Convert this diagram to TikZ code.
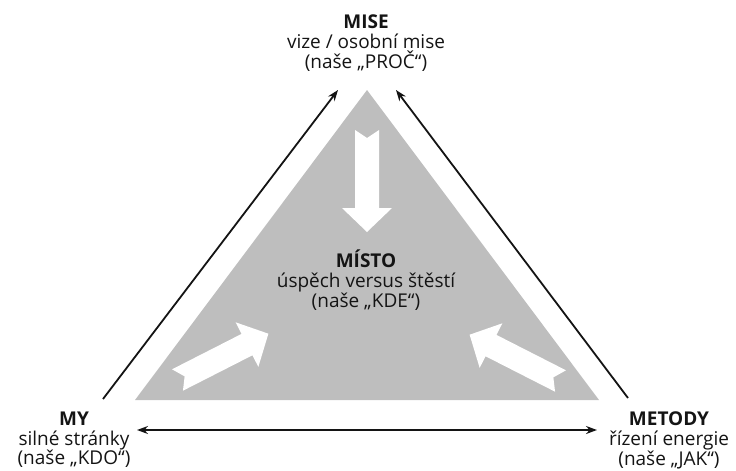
\documentclass[tikz,border=0pt]{standalone}
\usepackage{fontspec}
\setmainfont{Open Sans}
\usetikzlibrary{arrows.meta}
\definecolor{tri}{RGB}{190,190,190}
\definecolor{ink}{RGB}{20,20,20}
\begin{document}
\begin{tikzpicture}[x=1pt,y=-1pt,
  lbl/.style={align=center, inner sep=0pt, text=ink, font=\fontsize{19}{19.6}\selectfont},
  >={Stealth[length=11pt,width=8pt]},
  conn/.style={draw=ink, line width=1.8pt},
  fatarrow/.pic={\fill[white] (0,-12) -- (8,0) -- (0,12) -- (78,12) -- (78,25) -- (102,0) -- (78,-25) -- (78,-12) -- cycle;}
]
\useasboundingbox (0,0) rectangle (736,471);
\fill[tri] (367,90) -- (599,400) -- (135,400) -- cycle;
\pic[rotate=-90] at (367,130) {fatarrow};
\pic[rotate=27] at (177.5,380) {fatarrow};
\pic[rotate=153] at (560.5,381) {fatarrow};

\node[lbl, anchor=north] (mise) at (366,15) {\textbf{MISE}\\vize / osobní mise\\(naše „PROČ“)};
\node[lbl, anchor=north] (misto) at (366,250) {\textbf{MÍSTO}\\úspěch versus štěstí\\(naše „KDE“)};
\node[lbl, anchor=north] (my) at (74,412) {\textbf{MY}\\silné stránky\\(naše „KDO“)};
\node[lbl, anchor=north] (metody) at (669,412) {\textbf{METODY}\\řízení energie\\(naše „JAK“)};

\coordinate (myL) at (103,399);
\coordinate (miseL) at (338,90);
\coordinate (miseR) at (396,90);
\coordinate (metR) at (628,398);
\coordinate (myH) at (137,430);
\coordinate (metH) at (597,430);
\draw[conn, ->] (myL) -- (miseL);
\draw[conn, ->] (metR) -- (miseR);
\draw[conn, <->] (myH) -- (metH);
\end{tikzpicture}
\end{document}
